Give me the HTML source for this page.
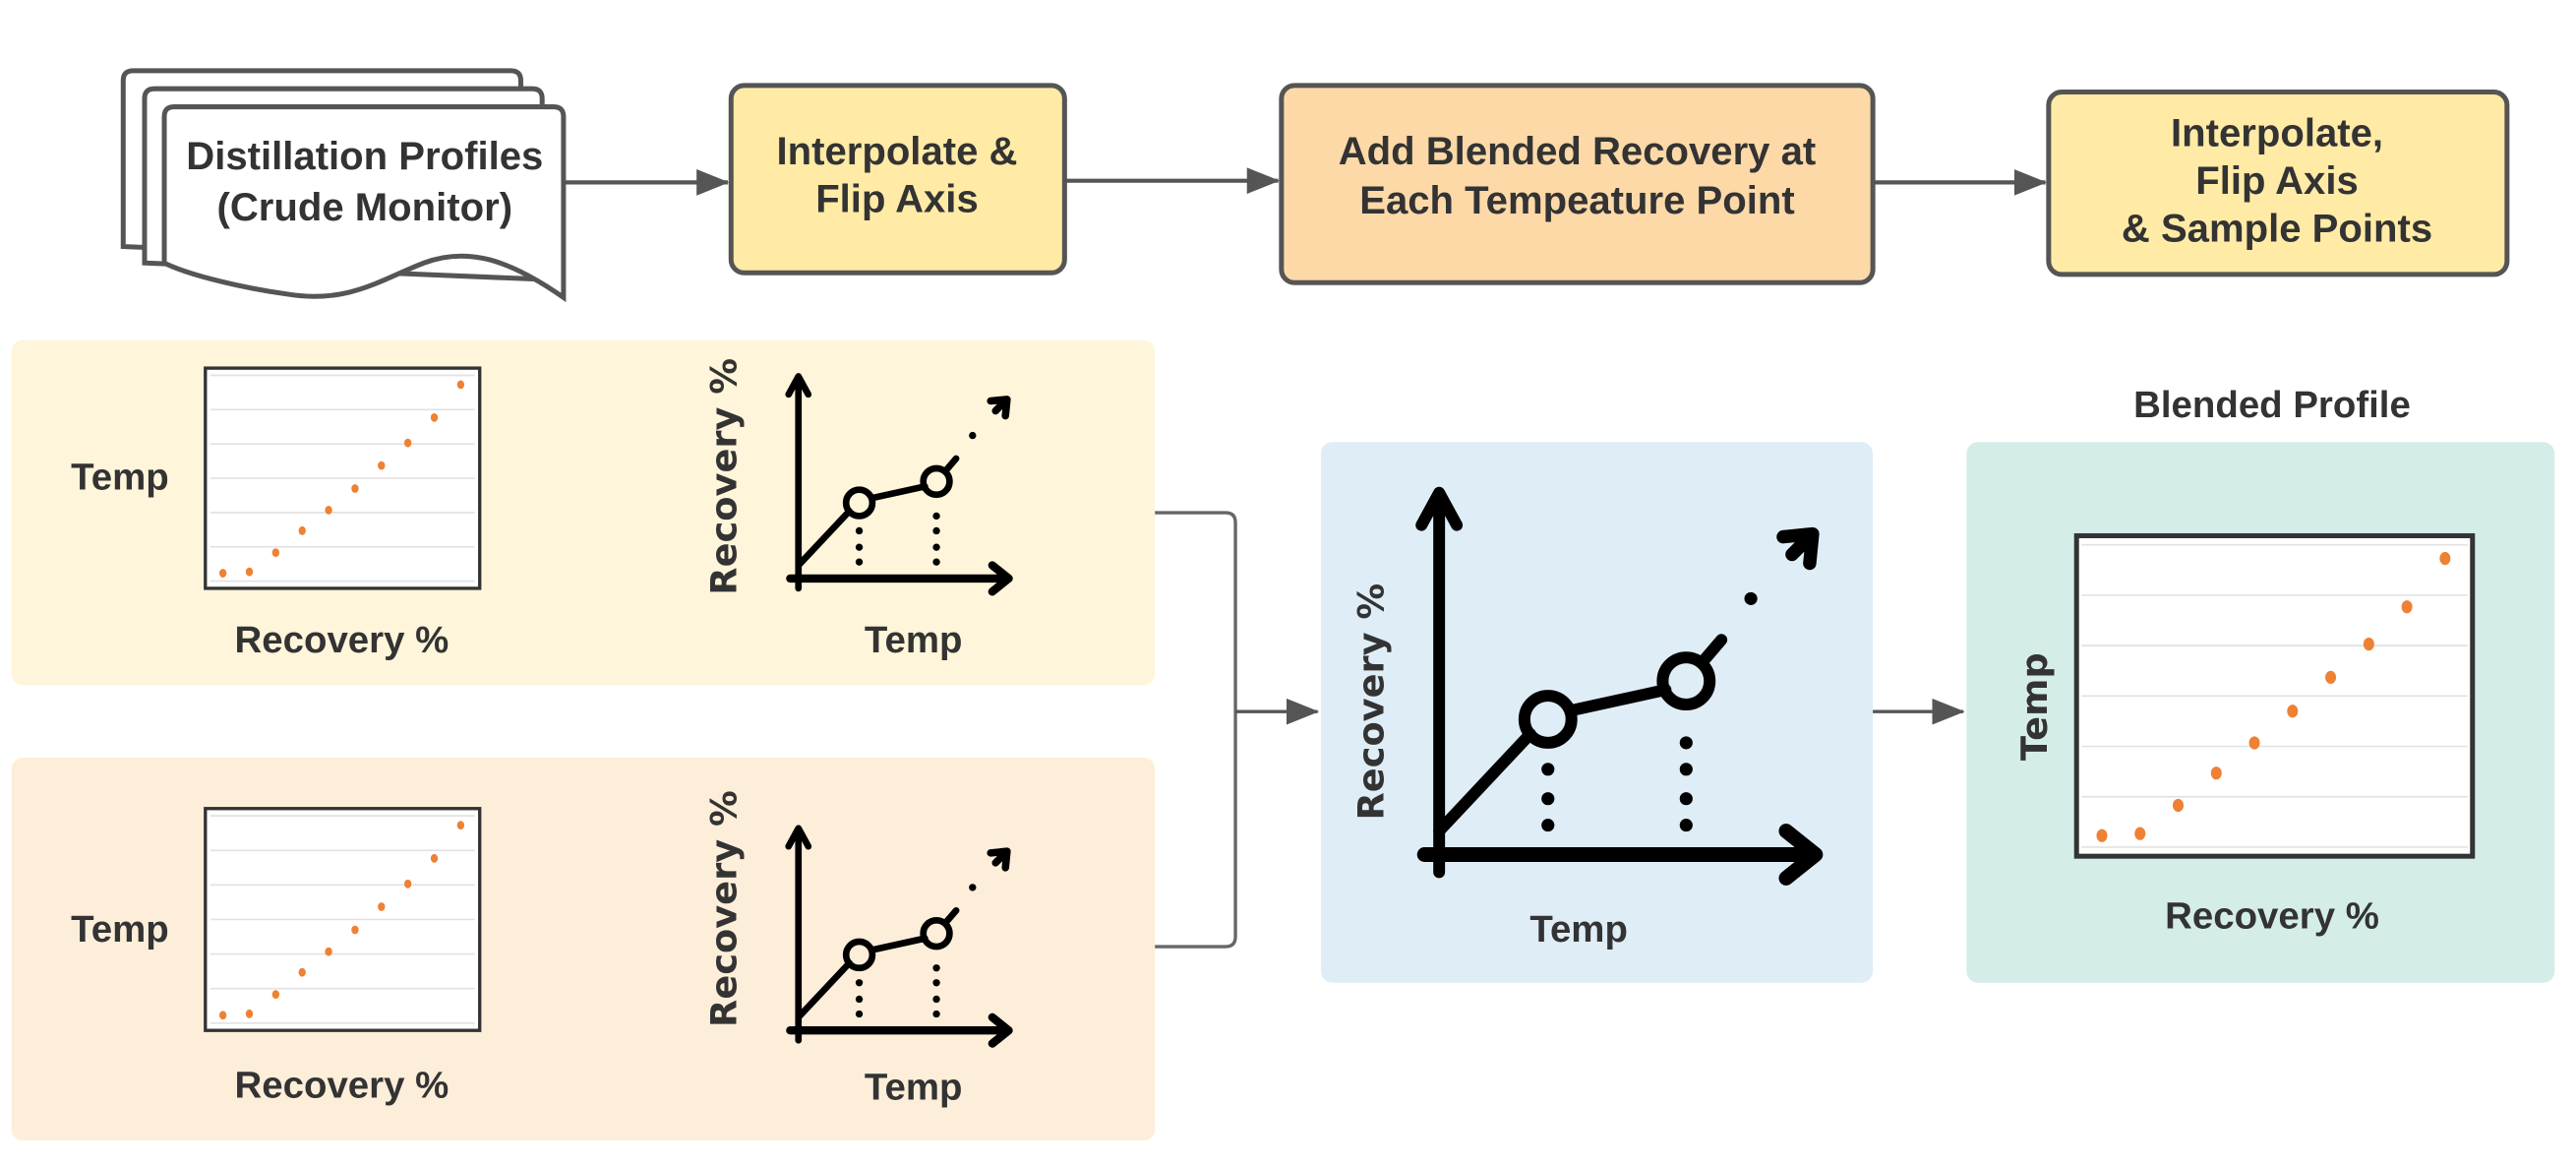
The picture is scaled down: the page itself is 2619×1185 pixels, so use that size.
<!DOCTYPE html>
<html><head><meta charset="utf-8"><style>
html,body{margin:0;padding:0;background:#fff;}
svg{display:block;}
text{font-family:"Liberation Sans",Arial,sans-serif;font-weight:bold;fill:#333;}
.rot{font-family:"DejaVu Sans","Liberation Sans",sans-serif;}
</style></head><body>
<svg id="s" width="2619" height="1185" viewBox="0 0 1568 709.5" preserveAspectRatio="none" xmlns="http://www.w3.org/2000/svg">
<defs>
<marker id="ah2" markerWidth="20" markerHeight="16" refX="19" refY="8" orient="auto" markerUnits="userSpaceOnUse" viewBox="0 0 20 16"><path d="M0,0L20,8L0,16Z" fill="#555"/></marker></defs>

<!-- document stack -->
<g fill="#fff" stroke="#555" stroke-width="3">
<path d="M75,150 L75,49 Q75,43 81,43 L311,43 Q317,43 317,49 L317,160 Z"/>
<path d="M88,160 L88,60 Q88,54 94,54 L324,54 Q330,54 330,60 L330,170 Z"/>
<path d="M100,160 L100,71 Q100,65 106,65 L337,65 Q343,65 343,71 L343,181 C310,158 285,150 258,160 C232,170 212,185 175,179 C140,174 112,166 100,160 Z"/>
</g>
<text x="222" y="103" font-size="24" text-anchor="middle">Distillation Profiles</text>
<text x="222" y="134" font-size="24" text-anchor="middle">(Crude Monitor)</text>

<line x1="343" y1="111" x2="443" y2="111" stroke="#555" stroke-width="2.5" marker-end="url(#ah2)"/>
<rect x="445" y="52" width="203" height="114" rx="8" fill="#FFEBA6" stroke="#555" stroke-width="3"/>
<text x="546" y="100" font-size="24" text-anchor="middle">Interpolate &amp;</text>
<text x="546" y="129" font-size="24" text-anchor="middle">Flip Axis</text>

<line x1="648" y1="110" x2="778" y2="110" stroke="#555" stroke-width="2.5" marker-end="url(#ah2)"/>
<rect x="780" y="52" width="360" height="120" rx="8" fill="#FDD9A8" stroke="#555" stroke-width="3"/>
<text x="960" y="100" font-size="24" text-anchor="middle">Add Blended Recovery at</text>
<text x="960" y="130" font-size="24" text-anchor="middle">Each Tempeature Point</text>

<line x1="1140" y1="111" x2="1245" y2="111" stroke="#555" stroke-width="2.5" marker-end="url(#ah2)"/>
<rect x="1247" y="56" width="279" height="111" rx="8" fill="#FFEBA6" stroke="#555" stroke-width="3"/>
<text x="1386" y="89" font-size="24" text-anchor="middle">Interpolate,</text>
<text x="1386" y="118" font-size="24" text-anchor="middle">Flip Axis</text>
<text x="1386" y="147" font-size="24" text-anchor="middle">&amp; Sample Points</text>

<!-- panels -->
<rect x="7" y="207" width="696" height="210" rx="7" fill="#FEF5DA"/>
<rect x="7" y="461" width="696" height="233" rx="7" fill="#FDEEDA"/>
<rect x="804" y="269" width="336" height="329" rx="7" fill="#DFEDF6"/>
<rect x="1197" y="269" width="358" height="329" rx="7" fill="#D5EDE8"/>

<path d="M703,312 L746,312 Q752,312 752,318 L752,570 Q752,576 746,576 L703,576" fill="none" stroke="#666" stroke-width="2"/>
<line x1="752" y1="433" x2="802" y2="433" stroke="#555" stroke-width="2" marker-end="url(#ah2)"/>
<line x1="1140" y1="433" x2="1195" y2="433" stroke="#555" stroke-width="2" marker-end="url(#ah2)"/>

<!-- labels -->
<text x="73" y="298" font-size="23" text-anchor="middle">Temp</text>
<text x="208" y="397" font-size="23" text-anchor="middle">Recovery %</text>
<text x="556" y="397" font-size="23" text-anchor="middle">Temp</text>
<text class="rot" transform="translate(448,290) rotate(-90)" font-size="22" text-anchor="middle">Recovery %</text>

<text x="73" y="573" font-size="23" text-anchor="middle">Temp</text>
<text x="208" y="668" font-size="23" text-anchor="middle">Recovery %</text>
<text x="556" y="669" font-size="23" text-anchor="middle">Temp</text>
<text class="rot" transform="translate(448,553) rotate(-90)" font-size="22" text-anchor="middle">Recovery %</text>

<text x="961" y="573" font-size="23" text-anchor="middle">Temp</text>
<text class="rot" transform="translate(842,427) rotate(-90)" font-size="22" text-anchor="middle">Recovery %</text>

<text x="1383" y="254" font-size="23" text-anchor="middle">Blended Profile</text>
<text class="rot" transform="translate(1246,430) rotate(-90)" font-size="22" text-anchor="middle">Temp</text>
<text x="1383" y="565" font-size="23" text-anchor="middle">Recovery %</text>
</svg>
<script>
var recovery=[1,2,3,4,5,6,7,8,9,10];
var tempA=[0.23,0.27,0.83,1.47,2.07,2.7,3.37,4.03,4.77,5.73];
var tempB=[0.23,0.27,0.83,1.47,2.07,2.7,3.37,4.03,4.77,5.73];
var tempBlend=[0.23,0.27,0.83,1.47,2.07,2.7,3.37,4.03,4.77,5.73];
var yTicks=[0,1,2,3,4,5,6];
var NS='http://www.w3.org/2000/svg';
var svg=document.getElementById('s');
function mk(t,a){var e=document.createElementNS(NS,t);for(var k in a)e.setAttribute(k,a[k]);return e;}
function scatter(x0,y0,x1,y1,ys,nm,r,sw){
  var g=mk('g',{});
  
  
  var frame=mk('rect',{x:x0,y:y0,width:x1-x0,height:y1-y0,fill:'#fff',stroke:'#333','stroke-width':sw});
  
  
  g.appendChild(frame);
  var pad=(y1-y0)*0.018+2;
  var gb=y1-pad, gt=y0+pad;
  function sy(v){return gb-(v-yTicks[0])/(yTicks[yTicks.length-1]-yTicks[0])*(gb-gt);}
  function sx(v){return x0+(x1-x0)*(0.064+(v-1)*0.0963);}
  yTicks.forEach(function(t){
    var l=mk('line',{x1:x0+3,x2:x1-3,y1:sy(t),y2:sy(t),stroke:'#e2e2e2','stroke-width':1});
    
    
    g.appendChild(l);
  });
  recovery.forEach(function(x,i){
    var c=mk('ellipse',{cx:sx(x),cy:sy(ys[i]),rx:r,ry:r*1.2,fill:'#EE8133'});
    
    
    g.appendChild(c);
  });
  svg.appendChild(g);
}
scatter(125,224,292,358,tempA,'scatter-crude-a',2.2,2);
scatter(125,492,292,627,tempB,'scatter-crude-b',2.2,2);
scatter(1264,326,1505,521,tempBlend,'scatter-blended',3.3,3);

function icon(ox,oy,s,nm){
  var g=mk('g',{transform:'translate('+ox+','+oy+') scale('+s+')',fill:'none',stroke:'#000','stroke-width':4,'stroke-linecap':'round','stroke-linejoin':'round'});
  
  
  var parts=[
    ['path',{d:'M0,6 L0,-122 M-6,-112 L0,-123 L6,-112'}],
    ['path',{d:'M-5,0 L127,0 M118,-8 L128,0 L118,8','stroke-width':5}],
    ['path',{d:'M0,-8 L31,-41 M45,-49 L77,-56 M90,-66 L96,-73'}],
    ['path',{d:'M117,-108 L127,-109 L126,-99 M126,-108 L120,-102','stroke-width':4.5}],
    ['circle',{cx:37,cy:-46,r:8,'stroke-width':4}],
    ['circle',{cx:84,cy:-59,r:8,'stroke-width':4}]
  ];
  parts.forEach(function(p){g.appendChild(mk(p[0],p[1]));});
  [[37,-29],[37,-19],[37,-10],[84,-38],[84,-29],[84,-19],[84,-10],[106,-87]].forEach(function(d){
    g.appendChild(mk('circle',{cx:d[0],cy:d[1],r:2.2,fill:'#000',stroke:'none'}));
  });
  svg.appendChild(g);
}
icon(486,352,1,'axis-icon-a');
icon(486,627,1,'axis-icon-b');
icon(876,520,1.79,'axis-icon-blend');
</script>
</body></html>
